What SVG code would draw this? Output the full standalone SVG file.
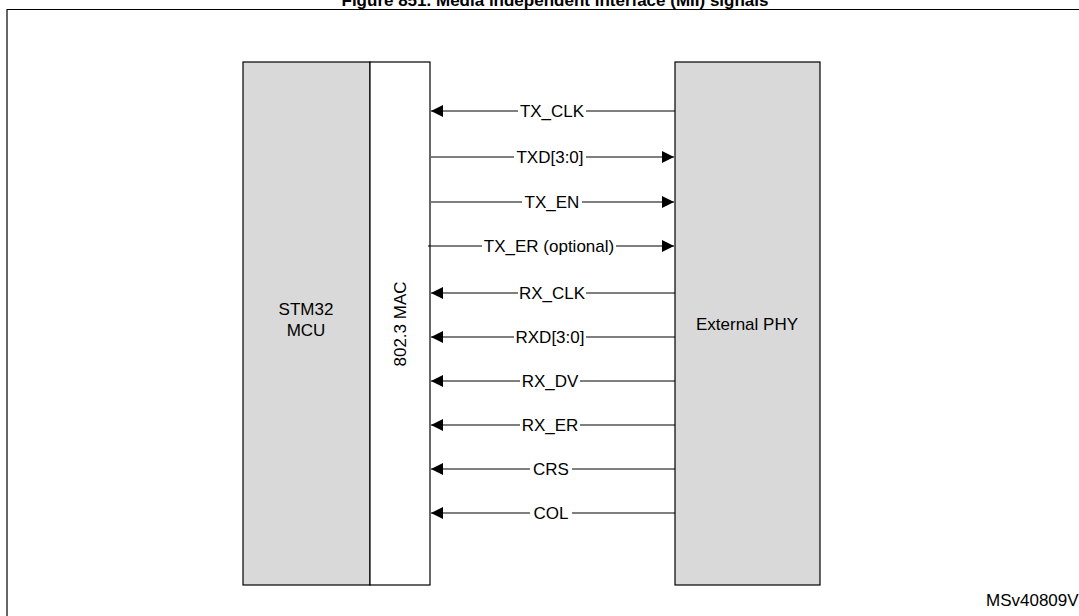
<svg xmlns="http://www.w3.org/2000/svg" width="1079" height="616" viewBox="0 0 1079 616">
<style>
text{font-family:"Liberation Sans",Arial,sans-serif;font-size:17px;fill:#000}
.l{stroke:#000;stroke-width:1.2;fill:none}
.b{stroke:#000;stroke-width:1.2}
.g{fill:#d9d9d9}
.s{text-anchor:middle;dominant-baseline:central}
.bg{fill:#fff;stroke:none}
</style>
<defs>
<marker id="a" viewBox="0 0 10 10" refX="10" refY="5" markerWidth="20" markerHeight="12" markerUnits="userSpaceOnUse" orient="auto"><path d="M0,0L10,5L0,10z" fill="#000"/></marker>
</defs>
<rect width="1079" height="616" fill="#fff"/>
<text x="555" y="6" text-anchor="middle" font-weight="bold" font-size="18">Figure 851. Media independent interface (MII) signals</text>
<path class="l" d="M7,616V9.5H1079" stroke-width="1.5"/>
<g id="mcu"><rect class="b g" x="243" y="62" width="127" height="523"/><text x="306" y="315" text-anchor="middle">STM32</text><text x="306" y="336" text-anchor="middle">MCU</text></g>
<g id="mac"><rect class="b" fill="#fff" x="370" y="62" width="60" height="523"/><text transform="translate(400,324) rotate(-90)" class="s">802.3 MAC</text></g>
<g id="phy"><rect class="b g" x="675" y="62" width="145" height="523"/><text x="747" y="324" class="s">External PHY</text></g>
<g id="connectors">
<path class="l" marker-end="url(#a)" d="M675,111H431"/>
<path class="l" marker-end="url(#a)" d="M431,157H674"/>
<path class="l" marker-end="url(#a)" d="M431,202H674"/>
<path class="l" marker-end="url(#a)" d="M428,246H674"/>
<path class="l" marker-end="url(#a)" d="M675,293H431"/>
<path class="l" marker-end="url(#a)" d="M675,337H431"/>
<path class="l" marker-end="url(#a)" d="M675,381H431"/>
<path class="l" marker-end="url(#a)" d="M675,425H431"/>
<path class="l" marker-end="url(#a)" d="M675,469H431"/>
<path class="l" marker-end="url(#a)" d="M675,513H431"/>
<rect class="bg" x="518" y="102" width="68" height="18"/><text x="552" y="111" class="s">TX_CLK</text>
<rect class="bg" x="514" y="148" width="72" height="18"/><text x="550" y="157" class="s">TXD[3:0]</text>
<rect class="bg" x="522" y="193" width="60" height="18"/><text x="552" y="202" class="s">TX_EN</text>
<rect class="bg" x="482" y="237" width="134" height="18"/><text x="549" y="246" class="s">TX_ER (optional)</text>
<rect class="bg" x="518" y="284" width="68" height="18"/><text x="552" y="293" class="s">RX_CLK</text>
<rect class="bg" x="514" y="328" width="72" height="18"/><text x="550" y="337" class="s">RXD[3:0]</text>
<rect class="bg" x="520" y="372" width="60" height="18"/><text x="550" y="381" class="s">RX_DV</text>
<rect class="bg" x="520" y="416" width="60" height="18"/><text x="550" y="425" class="s">RX_ER</text>
<rect class="bg" x="530" y="460" width="42" height="18"/><text x="551" y="469" class="s">CRS</text>
<rect class="bg" x="530" y="504" width="42" height="18"/><text x="551" y="513" class="s">COL</text>
</g>
<text x="986" y="606" font-size="13">MSv40809V2</text>
</svg>
